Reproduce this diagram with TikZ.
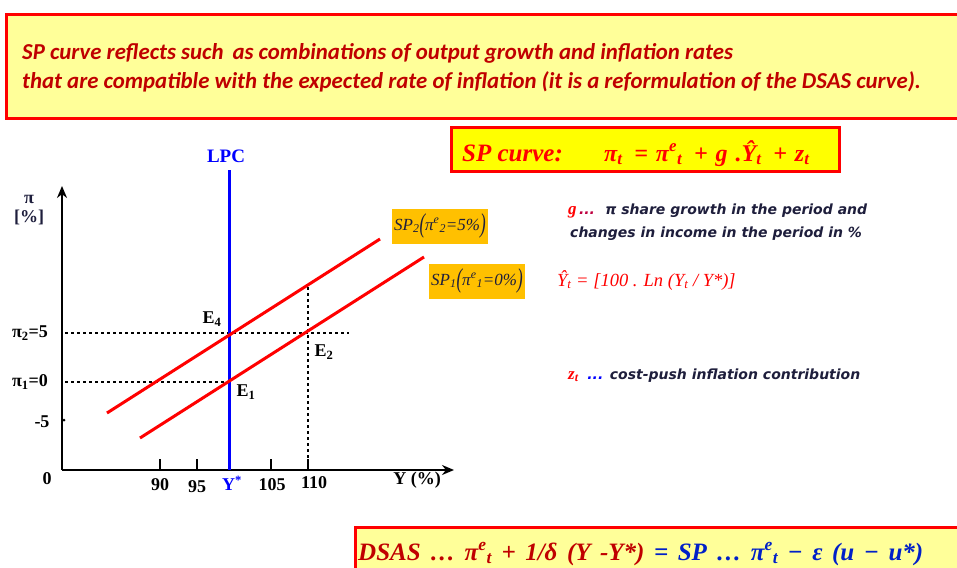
\documentclass[tikz,border=0pt]{standalone}
\usepackage{fontspec}
\setmainfont{Liberation Serif}
\newfontfamily\calib{Carlito}
\newfontfamily\dejav{DejaVu Sans}
\usetikzlibrary{arrows.meta}
\definecolor{topfill}{RGB}{255,255,153}
\definecolor{boxred}{RGB}{255,0,0}
\definecolor{txtred}{RGB}{192,0,0}
\definecolor{spyellow}{RGB}{255,255,0}
\definecolor{orangebox}{RGB}{255,192,0}
\definecolor{navytxt}{RGB}{30,30,60}
\definecolor{eqblue}{RGB}{0,32,200}
\definecolor{lpcblue}{RGB}{0,0,255}
\newcommand\sbs[1]{\textsubscript{#1}}
\newcommand\sps[1]{\textsuperscript{#1}}
\newcommand\bigpar[1]{\raisebox{-0.3ex}{\scalebox{1}[1.6]{#1}}}
\begin{document}
\begin{tikzpicture}[x=1pt,y=-1pt,
  frame/.style={draw=boxred, line width=3pt, inner sep=0pt, anchor=north west},
  toptext/.style={anchor=base west, font=\calib\bfseries\itshape\fontsize{22.8}{24}\selectfont, text=txtred, inner sep=0pt},
  axisline/.style={line width=2.5pt, black},
  tick/.style={line width=2pt, black},
  redline/.style={line width=3pt, red},
  dotline/.style={line width=2pt, black, dash pattern=on 2.5pt off 3.5pt},
  glab/.style={font=\bfseries\fontsize{18}{20}\selectfont, inner sep=0pt},
  splab/.style={fill=orangebox, inner sep=1pt, font=\itshape\fontsize{17}{19}\selectfont, text=navytxt},
  notetext/.style={anchor=base west, inner sep=0pt, font=\dejav\bfseries\itshape\fontsize{14}{16}\selectfont, text=navytxt}
]
\useasboundingbox (0,0) rectangle (957,567);
\fill[white] (0,0) rectangle (957,567);

% top box
\node[frame, fill=topfill, minimum width=970pt, minimum height=104pt] (topbox) at (5,13) {};
\node[toptext] (t1) at (22,60) {SP curve reflects such\, as combinations of output growth and inflation rates};
\node[toptext] (t2) at (22,89) {that are compatible with the expected rate of inflation (it is a reformulation of the DSAS curve).};

% SP curve box
\node[frame, fill=spyellow, minimum width=388pt, minimum height=44pt] (spbox) at (450,126) {};
\node[anchor=base west, inner sep=0pt, text=red, font=\bfseries\itshape\fontsize{25}{28}\selectfont] (spcurve) at (462,161) {SP curve:};
\node[anchor=base west, inner sep=0pt, text=red, font=\bfseries\itshape\fontsize{24}{28}\selectfont] (speq) at (604,161) {\spaceskip=0.33em π\sbs{t}\, = π\sps{e}\sbs{t}\, + g .Ŷ\sbs{t}\, + z\sbs{t}};

% axes
\coordinate (O) at (62,470);
\coordinate (ytop) at (62,186);
\coordinate (xend) at (454,470);
\draw[axisline, -{Stealth[length=12pt,width=10pt]}] (O) -- (ytop);
\draw[axisline, -{Stealth[length=12pt,width=10pt]}] (O) -- (xend);

% ticks
\foreach \tx in {160,197,271,308} {\draw[tick] (\tx,470) -- (\tx,459);}
\fill (64,420) circle (1.5pt);

% dotted guides
\coordinate (h5a) at (65,333); \coordinate (h5b) at (349,333);
\coordinate (h0a) at (65,382); \coordinate (h0b) at (229,382);
\coordinate (v110a) at (308,287); \coordinate (v110b) at (308,470);
\draw[dotline] (h5a) -- (h5b);
\draw[dotline] (h0a) -- (h0b);
\draw[dotline] (v110a) -- (v110b);

% LPC
\coordinate (lpcTop) at (229,170);
\coordinate (lpcBot) at (229,470);
\draw[line width=3pt, lpcblue] (lpcTop) -- (lpcBot);
\node[glab, text=lpcblue, font=\bfseries\fontsize{19}{21}\selectfont] (lpc) at (226,156) {LPC};

% SP lines
\coordinate (sp2a) at (107,413); \coordinate (sp2b) at (380,239);
\coordinate (sp1a) at (140,438); \coordinate (sp1b) at (424,257);
\draw[redline] (sp2a) -- (sp2b);
\draw[redline] (sp1a) -- (sp1b);

% labels on graph
\node[glab, text=navytxt, align=center, font=\bfseries\fontsize{18}{19}\selectfont] (pilab) at (29,210) {π\\{}[\%]};
\node[glab] (pi2) at (30,333) {π\sbs{2}=5};
\node[glab] (pi1) at (30,382) {π\sbs{1}=0};
\node[glab] (m5) at (42,422) {-5};
\node[glab] (zero) at (47,479) {0};
\node[glab] (l90) at (160,485) {90};
\node[glab] (l95) at (197,487) {95};
\node[glab, text=lpcblue] (lys) at (232,483) {Y\sps{*}};
\node[glab] (l105) at (272,485) {105};
\node[glab] (l110) at (314,483) {110};
\node[glab] (lY) at (417,480) {Y (\%)};
\node[glab] (e4) at (212,319) {E\sbs{4}};
\node[glab] (e1) at (246,392) {E\sbs{1}};
\node[glab] (e2) at (324,352) {E\sbs{2}};

% SP labels
\node[splab, minimum width=96pt, minimum height=35pt] (sp2lab) at (440,226) {SP\sbs{2}\bigpar{(}π\sps{e}\sbs{2}=5\%\bigpar{)}};
\node[splab, minimum width=96pt, minimum height=35pt] (sp1lab) at (477,281) {SP\sbs{1}\bigpar{(}π\sps{e}\sbs{1}=0\%\bigpar{)}};

% notes
\node[notetext] (g1) at (568,214) {\textcolor{red}{\rmfamily\fontsize{17}{19}\selectfont g}\,\textcolor{purple}{...}\; π share growth in the period and};
\node[notetext] (g2) at (570,237) {changes in income in the period in \%};
\node[anchor=base west, inner sep=0pt, text=red, font=\itshape\fontsize{18.5}{20}\selectfont] (yhat) at (557,286) {Ŷ\sbs{t} = [100 . Ln (Y\sbs{t} / Y*)]};
\node[notetext] (zt) at (568,379) {\textcolor{red}{\rmfamily\fontsize{17}{19}\selectfont z\sbs{t}}\; \textcolor{blue}{...} cost-push inflation contribution};

% DSAS box
\node[frame, fill=topfill, minimum width=620pt, minimum height=50pt] (dsasbox) at (354,526) {};
\node[anchor=base west, inner sep=0pt, font=\bfseries\itshape\fontsize{25}{28}\selectfont] (dsas) at (358,560) {\spaceskip=0.38em\textcolor{txtred}{DSAS … π\sps{e}\sbs{t} + 1/δ (Y -Y*)} \textcolor{eqblue}{= SP … π\sps{e}\sbs{t} − ε (u − u*)}};
\end{tikzpicture}
\end{document}
